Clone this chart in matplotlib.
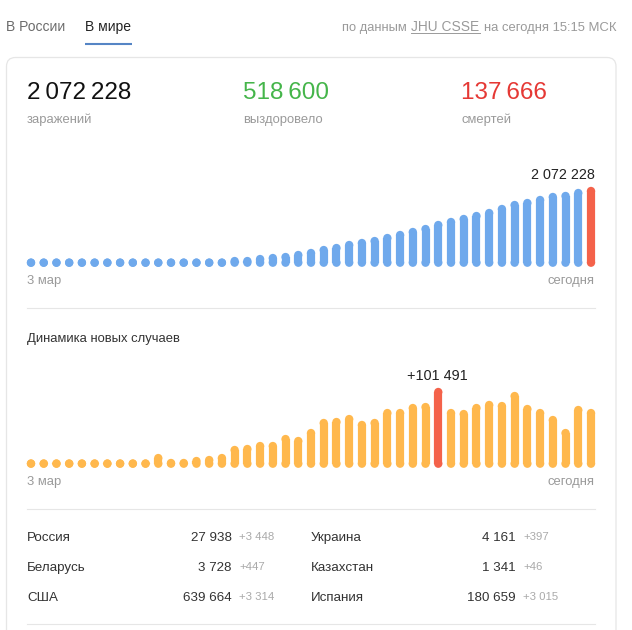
import matplotlib
matplotlib.use("Agg")
import matplotlib.pyplot as plt
from matplotlib.patches import FancyBboxPatch

plt.rcParams['font.family'] = ['Liberation Sans', 'DejaVu Sans']

W, H = 632, 630

# values
total_cases = [2000] * 16 + [
    48000, 48000, 106000, 135000, 164000, 222000, 280000, 366000, 424000, 511000,
    569000, 626000, 713000, 800000, 887000, 973000, 1089000, 1176000, 1263000, 1349000,
    1436000, 1552000, 1667000, 1725000, 1812000, 1899000, 1928000, 2014000, 2072228]
new_cases = [300] * 10 + [
    8000, 1000, 1000, 3800, 5200, 8000, 19400, 20800, 25000, 25000,
    34900, 32100, 43400, 57600, 59000, 63200, 54800, 57600, 71700, 71700,
    78800, 80200, 101491, 71700, 70300, 78800, 83100, 81600, 95800, 77400,
    71700, 61800, 43400, 76000, 71700]
total_peak = 44
new_peak = 32

summary_values = ["2\u2009072\u2009228", "518\u2009600", "137\u2009666"]
summary_labels = ["заражений", "выздоровело", "смертей"]
summary_colors = ["#111111", "#45b54a", "#e53935"]
summary_x = [27, 243, 461]

countries_left = ["Россия", "Беларусь", "США"]
counts_left = ["27 938", "3 728", "639 664"]
deltas_left = ["+3 448", "+447", "+3 314"]
countries_right = ["Украина", "Казахстан", "Испания"]
counts_right = ["4 161", "1 341", "180 659"]
deltas_right = ["+397", "+46", "+3 015"]
row_y = [541, 571, 601]

GRAY = "#9a9a9a"
LINE = "#e6e6e6"
BLUE = "#6fa9ec"
ORANGE = "#ffb84d"
PEAK = "#f4624a"

fig = plt.figure(figsize=(W / 100, H / 100), dpi=100, facecolor="white")

# page layer, in pixels from the top left
bg = fig.add_axes([0, 0, 1, 1])
bg.set_xlim(0, W)
bg.set_ylim(H, 0)
bg.axis("off")


def label(x, y, s, size=10, color="#333333", ha="left"):
    # y is the text baseline
    bg.text(x, y, s, fontsize=size, color=color, ha=ha, va="baseline")


card = FancyBboxPatch((6.5, 57.5), 609.5, 640, boxstyle="round,pad=0,rounding_size=9",
                      facecolor="white", edgecolor=LINE, linewidth=0.9)
bg.add_patch(card)

# header
label(6, 31, "В России", 10, "#6b6b6b")
label(85, 31, "В мире", 10, "#222222")
bg.plot([85, 132], [43.7, 43.7], color="#5585c5", lw=1.5, solid_capstyle="butt")
label(342, 31, "по данным", 9.3, GRAY)
label(411, 31, "JHU CSSE", 9.9, GRAY)
bg.plot([411, 480], [33, 33], color=GRAY, lw=0.7)
label(616, 31, "на сегодня 15:15 МСК", 9.4, GRAY, ha="right")

# totals
for x, val, lab, col in zip(summary_x, summary_values, summary_labels, summary_colors):
    label(x, 99, val, 17.5, col)
    label(x, 123, lab, 9.4, GRAY)

# dividers
for y in [307.5, 508.5, 623.5]:
    bg.plot([27, 595], [y, y], color=LINE, lw=0.8)

label(27, 342, "Динамика новых случаев", 9.4, "#333333")
label(595, 179, "2 072 228", 10.4, "#222222", ha="right")
label(437.5, 380, "+101 491", 10.4, "#222222", ha="center")
for y in [284, 485]:
    label(27, y, "3 мар", 9.4, GRAY)
    label(595, y, "сегодня", 9.4, GRAY, ha="right")

# country table
for y, name, cnt, dlt in zip(row_y, countries_left, counts_left, deltas_left):
    label(27, y, name, 9.6, "#333333")
    label(232, y, cnt, 9.6, "#333333", ha="right")
    label(239, y - 1, dlt, 8.2, "#aaaaaa")
for y, name, cnt, dlt in zip(row_y, countries_right, counts_right, deltas_right):
    label(311, y, name, 9.6, "#333333")
    label(516, y, cnt, 9.6, "#333333", ha="right")
    label(523, y - 1, dlt, 8.2, "#aaaaaa")


def bar_chart(values, peak, color, y_top, y_base):
    # rounded bars: a stem plus a dot at each end, x 31..591 px
    ax = fig.add_axes([31 / W, 1 - y_base / H, 560 / W, (y_base - y_top) / H])
    ax.axis("off")
    ax.patch.set_alpha(0)
    xs = list(range(len(values)))
    colors = [PEAK if i == peak else color for i in xs]
    ax.vlines(xs, 0, values, colors=colors, linewidth=5.9, clip_on=False)
    ax.scatter(xs, [0] * len(xs), s=36, c=colors, linewidths=0, clip_on=False)
    ax.scatter(xs, values, s=36, c=colors, linewidths=0, clip_on=False)
    ax.set_xlim(0, len(values) - 1)
    ax.set_ylim(0, max(values))


bar_chart(total_cases, total_peak, BLUE, 191, 262.7)
bar_chart(new_cases, new_peak, ORANGE, 392, 463.7)

fig.savefig("out.png", dpi=100)
